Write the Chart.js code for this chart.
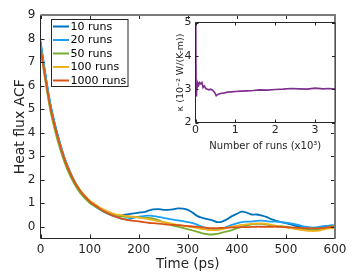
<!DOCTYPE html>
<html>
<head>
<meta charset="utf-8">
<script src="https://cdn.jsdelivr.net/npm/chart.js@4.4.0/dist/chart.umd.min.js"></script>
<style>
html, body { margin: 0; padding: 0; background: #fff; }
#wrap { position: relative; width: 363px; height: 274px; }
#main { position: absolute; left: 0; top: 0; }
#inset { position: absolute; left: 160px; top: 10px; }
</style>
</head>
<body>
<div id="wrap">
  <canvas id="main" width="363" height="274"></canvas>
  <canvas id="inset" width="190" height="150"></canvas>
</div>
<script>
// Данные основного графика: время (пс) и АКФ теплового потока
const timePs = [0, 10, 20, 30, 40, 50, 60, 70, 80, 90, 100, 110, 120, 130, 140,
    150, 160, 170, 180, 190, 200, 210, 220, 230, 240, 250, 260, 270, 280, 290,
    300, 310, 320, 330, 340, 350, 360, 370, 380, 390,
    400, 410, 420, 430, 440, 450, 460, 470, 480, 490,
    500, 510, 520, 530, 540, 550, 560, 570, 580, 590, 600];

const acf10 = [7.85, 6.45, 5.2, 4.28, 3.5, 2.85, 2.33, 1.9, 1.55, 1.3, 1.08, 0.92, 0.78, 0.66, 0.56,
    0.5, 0.47, 0.5, 0.54, 0.57, 0.6, 0.62, 0.68, 0.74, 0.75, 0.72, 0.72, 0.74, 0.78, 0.77,
    0.72, 0.6, 0.45, 0.38, 0.32, 0.27, 0.2, 0.22, 0.32, 0.45,
    0.55, 0.64, 0.6, 0.52, 0.52, 0.48, 0.42, 0.32, 0.25, 0.2,
    0.15, 0.1, 0.04, 0.0, -0.03, -0.06, -0.05, -0.02, 0.03, 0.05, 0.05];

const acf20 = [7.9, 6.5, 5.25, 4.32, 3.55, 2.88, 2.35, 1.9, 1.55, 1.28, 1.05, 0.88, 0.74, 0.62, 0.52,
    0.45, 0.38, 0.32, 0.32, 0.38, 0.42, 0.45, 0.47, 0.45, 0.42, 0.38, 0.34, 0.3, 0.27, 0.24,
    0.2, 0.15, 0.08, 0.0, -0.06, -0.12, -0.12, -0.08, 0.0, 0.08,
    0.14, 0.2, 0.22, 0.22, 0.25, 0.26, 0.24, 0.22, 0.22, 0.2,
    0.17, 0.14, 0.1, 0.05, 0.0, -0.03, -0.03, 0.0, 0.02, 0.05, 0.06];

const acf50 = [7.6, 6.2, 4.95, 4.05, 3.3, 2.68, 2.18, 1.78, 1.46, 1.22, 1.02, 0.88, 0.76, 0.65, 0.56,
    0.48, 0.45, 0.43, 0.42, 0.42, 0.4, 0.38, 0.38, 0.35, 0.28, 0.2, 0.12, 0.05, 0.0, -0.05,
    -0.1, -0.16, -0.22, -0.28, -0.32, -0.33, -0.3, -0.25, -0.2, -0.14,
    -0.06, 0.0, 0.05, 0.1, 0.12, 0.12, 0.1, 0.06, 0.04, 0.02,
    0.0, -0.04, -0.07, -0.1, -0.12, -0.13, -0.12, -0.1, -0.05, 0.0, 0.05];

const acf100 = [7.65, 6.3, 5.08, 4.18, 3.45, 2.82, 2.32, 1.9, 1.58, 1.33, 1.12, 0.97, 0.83, 0.72, 0.62,
    0.55, 0.5, 0.47, 0.45, 0.42, 0.4, 0.36, 0.32, 0.28, 0.24, 0.2, 0.16, 0.12, 0.08, 0.05,
    0.02, -0.02, -0.06, -0.1, -0.13, -0.14, -0.14, -0.1, -0.05, 0.0,
    0.04, 0.08, 0.1, 0.12, 0.14, 0.14, 0.12, 0.08, 0.04, 0.0,
    -0.03, -0.06, -0.1, -0.13, -0.16, -0.18, -0.18, -0.15, -0.1, -0.07, -0.05];

const acf1000 = [7.6, 6.3, 5.08, 4.2, 3.45, 2.8, 2.3, 1.88, 1.55, 1.3, 1.08, 0.92, 0.78, 0.65, 0.54,
    0.45, 0.38, 0.32, 0.28, 0.25, 0.23, 0.2, 0.17, 0.15, 0.13, 0.11, 0.09, 0.08, 0.07, 0.05,
    0.03, 0.01, -0.01, -0.03, -0.05, -0.06, -0.06, -0.05, -0.04, -0.03,
    -0.03, -0.02, -0.02, -0.01, 0.0, 0.0, 0.0, 0.0, 0.0, -0.01,
    -0.02, -0.03, -0.04, -0.05, -0.06, -0.07, -0.07, -0.06, -0.04, -0.02, 0.0];

const seriesLabels = ['10 runs', '20 runs', '50 runs', '100 runs', '1000 runs'];
const seriesColors = ['#0072BD', '#1AA0F5', '#77AC30', '#EDB120', '#D95319'];
const xTicks = [0, 100, 200, 300, 400, 500, 600];
const yTicks = [0, 1, 2, 3, 4, 5, 6, 7, 8, 9];

// Данные вставки: число прогонов (x10^3) и теплопроводность
const runsK = [0.001, 0.008, 0.015, 0.022, 0.03, 0.045, 0.06, 0.08, 0.1, 0.13, 0.16, 0.19, 0.22, 0.26,
    0.3, 0.34, 0.38, 0.43, 0.48, 0.52, 0.56, 0.62, 0.7, 0.8, 0.9, 1.0, 1.15, 1.3, 1.45, 1.6,
    1.8, 2.0, 2.2, 2.4, 2.6, 2.8, 3.0, 3.2, 3.35, 3.5];
const kappa = [5.0, 4.3, 3.2, 2.78, 2.9, 3.1, 3.18, 3.12, 3.2, 3.16, 3.2, 3.05, 3.1, 3.02,
    3.0, 2.98, 3.0, 2.97, 2.9, 2.8, 2.84, 2.87, 2.88, 2.91, 2.92, 2.93, 2.94, 2.95, 2.96, 2.98,
    2.97, 2.99, 3.0, 3.02, 3.01, 3.0, 3.03, 3.01, 3.02, 3.0];
const insetXTicks = [0, 1, 2, 3];
const insetYTicks = [2, 3, 4, 5];

Chart.defaults.font.family = '"DejaVu Sans"';
Chart.defaults.color = '#262626';

// Рамка в стиле MATLAB: внутренние засечки со всех сторон
const boxPlugin = {
    id: 'matlabBox',
    beforeDatasetsDraw(chart) {
        const a = chart.chartArea;
        const ctx = chart.ctx;
        ctx.save();
        ctx.fillStyle = '#fff';
        ctx.fillRect(a.left, a.top, a.right - a.left, a.bottom - a.top);
        ctx.restore();
    },
    afterDatasetsDraw(chart, args, opts) {
        const { ctx, chartArea: a, scales: { x, y } } = chart;
        const len = opts.tickLen;
        ctx.save();
        ctx.strokeStyle = '#262626';
        ctx.lineWidth = 1;
        ctx.beginPath();
        x.ticks.forEach(t => {
            const px = Math.round(x.getPixelForValue(t.value)) + 0.5;
            ctx.moveTo(px, a.bottom); ctx.lineTo(px, a.bottom - len);
            ctx.moveTo(px, a.top); ctx.lineTo(px, a.top + len);
        });
        y.ticks.forEach(t => {
            const py = Math.round(y.getPixelForValue(t.value)) + 0.5;
            ctx.moveTo(a.left, py); ctx.lineTo(a.left + len, py);
            ctx.moveTo(a.right, py); ctx.lineTo(a.right - len, py);
        });
        ctx.stroke();
        ctx.beginPath();
        ctx.moveTo(a.left, a.top);
        ctx.lineTo(a.left, a.bottom);
        ctx.lineTo(a.right, a.bottom);
        ctx.stroke();
        ctx.strokeStyle = opts.edgeColor;
        ctx.lineWidth = opts.edgeWidth;
        ctx.beginPath();
        ctx.moveTo(a.left, a.top);
        ctx.lineTo(a.right, a.top);
        ctx.lineTo(a.right, a.bottom);
        ctx.stroke();
        ctx.restore();
    }
};

// Легенда внутри области графика
const legendPlugin = {
    id: 'insideLegend',
    afterDraw(chart, args, opts) {
        const ctx = chart.ctx;
        ctx.save();
        ctx.fillStyle = '#fff';
        ctx.fillRect(opts.x, opts.y, opts.w, opts.h);
        ctx.strokeStyle = '#262626';
        ctx.lineWidth = 1;
        ctx.strokeRect(opts.x + 0.5, opts.y + 0.5, opts.w, opts.h);
        ctx.font = '11px "DejaVu Sans"';
        ctx.textBaseline = 'middle';
        chart.data.datasets.forEach((ds, i) => {
            const cy = opts.y + opts.first + i * opts.step;
            ctx.strokeStyle = ds.borderColor;
            ctx.lineWidth = 2;
            ctx.beginPath();
            ctx.moveTo(opts.x + 2, cy);
            ctx.lineTo(opts.x + 18, cy);
            ctx.stroke();
            ctx.fillStyle = '#000';
            ctx.fillText(ds.label, opts.x + 19.5, cy + 0.5);
        });
        ctx.restore();
    }
};

function toPoints(xs, ys) {
    return xs.map((v, i) => ({ x: v, y: ys[i] }));
}

const acfSeries = [acf10, acf20, acf50, acf100, acf1000];

new Chart(document.getElementById('main'), {
    type: 'line',
    data: {
        datasets: acfSeries.map((vals, i) => ({
            label: seriesLabels[i],
            data: toPoints(timePs, vals),
            borderColor: seriesColors[i],
            borderWidth: 1.8,
            pointRadius: 0,
            tension: 0.4,
            order: acfSeries.length - 1 - i
        }))
    },
    options: {
        responsive: false,
        animation: false,
        layout: { padding: { top: 15, right: 28, left: 0, bottom: 0 } },
        plugins: {
            legend: { display: false },
            tooltip: { enabled: false },
            matlabBox: { tickLen: 4, edgeColor: '#7a7a7a', edgeWidth: 2 },
            insideLegend: { x: 51, y: 19, w: 76.5, h: 67, first: 7.5, step: 13.5 }
        },
        scales: {
            x: {
                type: 'linear', min: 0, max: 600,
                grid: { display: false, drawTicks: false }, border: { display: false },
                afterBuildTicks: s => { s.ticks = xTicks.map(v => ({ value: v })); },
                afterFit: s => { s.height = 35.5; },
                ticks: { font: { size: 12 }, padding: 4, maxRotation: 0, autoSkip: false },
                title: { display: true, text: 'Time (ps)', font: { size: 13.5 }, padding: { top: 0, bottom: 1.5 } }
            },
            y: {
                min: -0.5, max: 9,
                grid: { display: false, drawTicks: false }, border: { display: false },
                afterBuildTicks: s => { s.ticks = yTicks.map(v => ({ value: v })); },
                afterFit: s => { s.width = 40.5; },
                ticks: { font: { size: 12 }, padding: 5 },
                title: { display: true, text: 'Heat flux ACF', font: { size: 14 }, padding: { top: 11.5, bottom: 0 } }
            }
        }
    },
    plugins: [boxPlugin, legendPlugin]
});

new Chart(document.getElementById('inset'), {
    type: 'line',
    data: {
        datasets: [{
            label: 'kappa',
            data: toPoints(runsK, kappa),
            borderColor: '#7E2F8E',
            borderWidth: 1.6,
            pointRadius: 0,
            tension: 0
        }]
    },
    options: {
        responsive: false,
        animation: false,
        layout: { padding: { top: 12.5, right: 15, left: 0, bottom: 0 } },
        plugins: {
            legend: { display: false },
            tooltip: { enabled: false },
            matlabBox: { tickLen: 3, edgeColor: '#262626', edgeWidth: 1 }
        },
        scales: {
            x: {
                type: 'linear', min: 0, max: 3.5,
                grid: { display: false, drawTicks: false }, border: { display: false },
                afterBuildTicks: s => { s.ticks = insetXTicks.map(v => ({ value: v })); },
                afterFit: s => { s.height = 37.5; },
                ticks: { font: { size: 11 }, padding: 1.5, maxRotation: 0, autoSkip: false },
                title: { display: true, text: 'Number of runs (x10³)', font: { size: 10 }, padding: { top: 0, bottom: 7.5 } }
            },
            y: {
                min: 2, max: 5,
                grid: { display: false, drawTicks: false }, border: { display: false },
                afterBuildTicks: s => { s.ticks = insetYTicks.map(v => ({ value: v })); },
                afterFit: s => { s.width = 35.5; },
                ticks: { font: { size: 11 }, padding: 4 },
                title: { display: true, text: 'κ (10⁻² W/(K-m))', font: { size: 9.5 }, padding: { top: 15, bottom: 0 } }
            }
        }
    },
    plugins: [boxPlugin]
});
</script>
</body>
</html>
